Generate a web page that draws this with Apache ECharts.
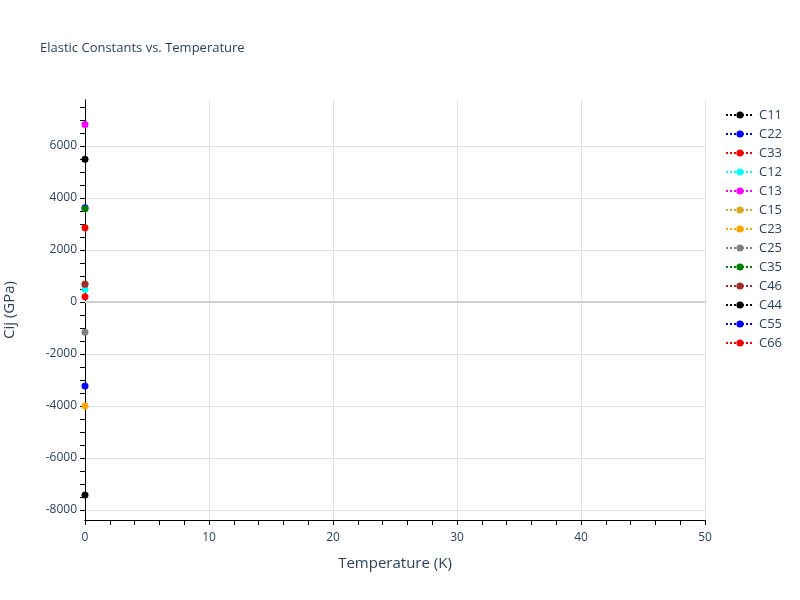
<!DOCTYPE html>
<html>
<head>
<meta charset="utf-8">
<script src="https://cdn.jsdelivr.net/npm/echarts@6/dist/echarts.min.js"></script>
<style>html,body{margin:0;padding:0;background:#fff}#c{width:800px;height:600px}</style>
</head>
<body>
<div id="c"></div>
<script>
const temperatures = [0];
const seriesNames = ['C11','C22','C33','C12','C13','C15','C23','C25','C35','C46','C44','C55','C66'];
const seriesColors = ['black','blue','red','cyan','magenta','goldenrod','orange','gray','green','brown','black','blue','red'];
const C11 = [5490];
const C22 = [3630];
const C33 = [2860];
const C12 = [490];
const C13 = [6830];
const C15 = [680];
const C23 = [-4000];
const C25 = [-1160];
const C35 = [3590];
const C46 = [680];
const C44 = [-7420];
const C55 = [-3230];
const C66 = [205];
const seriesValues = [C11,C22,C33,C12,C13,C15,C23,C25,C35,C46,C44,C55,C66];
const yLabelValues = [-8000,-6000,-4000,-2000,0,2000,4000,6000];
const yTickValues = [];
for (let v = -8000; v <= 7500; v += 500) yTickValues.push(v);

const txt = '#2a3f5f';
const font = 'Open Sans, Verdana, Arial, sans-serif';
const yMin = -8385, yMax = 7770;

const chart = echarts.init(document.getElementById('c'), null, {renderer:'canvas'});
chart.setOption({
  backgroundColor: '#fff',
  animation: false,
  textStyle: {fontFamily: font, color: txt},
  title: {
    text: 'Elastic Constants vs. Temperature',
    left: 35, top: 37,
    textStyle: {fontSize: 13, fontWeight: 'normal', color: txt, fontFamily: font}
  },
  legend: {
    orient: 'vertical', left: 720, top: 103,
    itemWidth: 28, itemHeight: 9, itemGap: 5,
    textStyle: {fontSize: 13, color: txt, fontFamily: font, lineHeight: 14},
    data: seriesNames
  },
  grid: {left: 85, right: 95, top: 100, bottom: 80, containLabel: false, outerBoundsMode: 'none'},
  xAxis: [{
    type: 'value', min: 0, max: 50, interval: 10,
    name: 'Temperature (K)', nameLocation: 'middle', nameGap: 36,
    nameTextStyle: {fontSize: 15, color: txt},
    axisLine: {show: true, onZero: false, lineStyle: {color: '#000', width: 1}},
    axisTick: {show: false},
    axisLabel: {fontSize: 12, color: txt, margin: 12},
    splitLine: {show: true, lineStyle: {color: '#e0e0e0', width: 1}}
  }, {
    type: 'value', min: 0, max: 50, interval: 2, position: 'bottom',
    axisLine: {show: true, onZero: false, lineStyle: {color: '#000', width: 1}},
    axisTick: {show: true, inside: false, length: 5, lineStyle: {color: '#000'}},
    axisLabel: {show: false},
    splitLine: {show: false}
  }],
  yAxis: [{
    type: 'value', min: yMin, max: yMax,
    name: 'Cij (GPa)', nameLocation: 'middle', nameGap: 68,
    nameTextStyle: {fontSize: 15, color: txt},
    axisLine: {show: true, onZero: false, lineStyle: {color: '#000', width: 1}},
    axisTick: {show: false, customValues: yLabelValues},
    axisLabel: {fontSize: 12, color: txt, margin: 8, customValues: yLabelValues, formatter: v => String(v)},
    splitLine: {show: true, lineStyle: {color: '#e0e0e0', width: 1}}
  }, {
    type: 'value', min: yMin, max: yMax, position: 'left',
    axisLine: {show: true, onZero: false, lineStyle: {color: '#000', width: 1}},
    axisTick: {show: true, length: 5, customValues: yTickValues, lineStyle: {color: '#000'}},
    axisLabel: {show: false},
    splitLine: {show: false}
  }],
  series: [{
    type: 'line', name: '__zero', data: [[0,0],[50,0]], xAxisIndex: 0, yAxisIndex: 0,
    symbol: 'none', silent: true, lineStyle: {color: '#cfcfcf', width: 2}, z: 1
  }].concat(seriesNames.map((n, i) => ({
    type: 'line', name: n,
    data: temperatures.map((t, k) => [t, seriesValues[i][k]]),
    xAxisIndex: 0, yAxisIndex: 0,
    symbol: 'circle', symbolSize: 7, showSymbol: true, clip: false,
    itemStyle: {color: seriesColors[i]},
    lineStyle: {color: seriesColors[i], type: 'dotted', width: 2},
    z: 3
  })))
});
</script>
</body>
</html>
